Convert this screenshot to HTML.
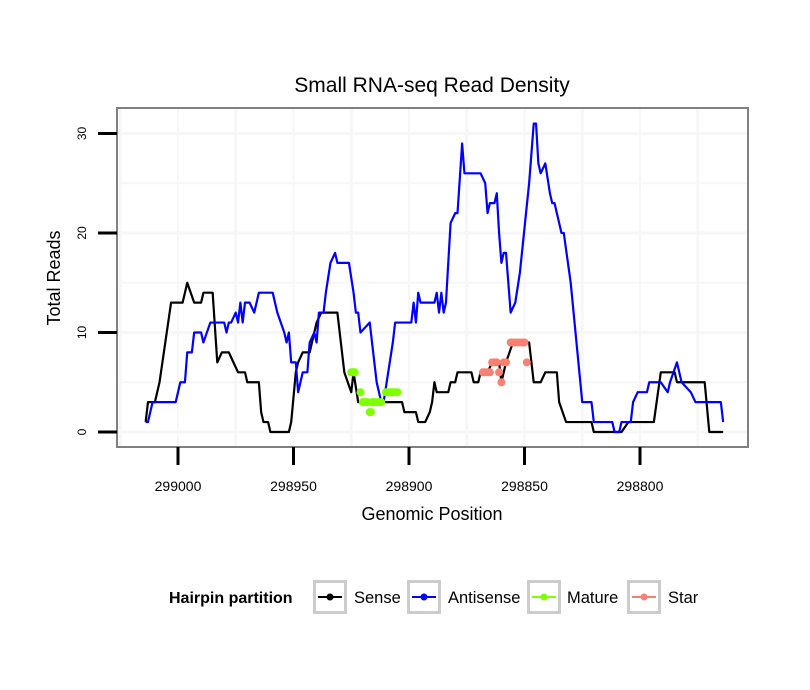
<!DOCTYPE html>
<html><head><meta charset="utf-8"><style>
body{margin:0;background:#fff;}
svg{display:block;font-family:"Liberation Sans",sans-serif;}
</style></head><body>
<svg id="chart" width="810" height="690" viewBox="0 0 810 690">
<rect width="810" height="690" fill="#fff"/>
<text x="432" y="92" font-size="21" text-anchor="middle">Small RNA-seq Read Density</text>
<g id="grid"></g>
<g id="series"></g>
<rect x="117" y="108" width="631" height="339" fill="none" stroke="#808080" stroke-width="2"/>
<g id="axes"></g>
<text x="432" y="520" font-size="18" text-anchor="middle">Genomic Position</text>
<text transform="translate(60,278) rotate(-90)" font-size="18" text-anchor="middle">Total Reads</text>
<g>
<text x="169" y="603" font-size="16" font-weight="bold">Hairpin partition</text>
<g id="legend"></g>
</g>
</svg>
<script>
const yTicks=[0,10,20,30];
const xTicks=[299000,298950,298900,298850,298800];
const senseData=[[299014,1],[299013,3],[299010,3],[299009,4],[299008,5],[299003,13],[298998,13],[298997,14],[298996,15],[298993,13],[298990,13],[298989,14],[298985,14],[298983,7],[298981,8],[298978,8],[298976,7],[298974,6],[298971,6],[298970,5],[298965,5],[298964,2],[298963,1],[298961,1],[298960,0],[298952,0],[298951,1],[298949,6],[298948,7],[298946,8],[298943,8],[298941,10],[298940,11],[298938,12],[298931,12],[298928,6],[298925,4],[298924,6],[298922,3],[298903,3],[298902,2],[298897,2],[298896,1],[298893,1],[298891,2],[298890,3],[298889,5],[298888,4],[298883,4],[298882,5],[298880,5],[298879,6],[298873,6],[298872,5],[298870,5],[298869,6],[298866,6],[298864,7],[298861,7],[298860,5],[298858,7],[298855,9],[298848,9],[298846,5],[298843,5],[298841,6],[298836,6],[298835,3],[298832,1],[298821,1],[298820,0],[298808,0],[298805,1],[298794,1],[298791,6],[298785,6],[298784,5],[298772,5],[298770,0],[298764,0]];
const antisenseData=[[299014,1],[299013,1],[299011,3],[299001,3],[299000,4],[298999,5],[298997,5],[298996,8],[298994,8],[298993,10],[298990,10],[298989,9],[298986,11],[298980,11],[298979,10],[298978,11],[298977,11],[298975,12],[298974,11],[298973,13],[298972,11],[298971,13],[298969,13],[298967,12],[298965,14],[298959,14],[298957,12],[298954,10],[298953,9],[298952,10],[298951,7],[298949,7],[298948,4],[298946,6],[298944,6],[298943,9],[298941,10],[298940,9],[298939,12],[298937,12],[298936,14],[298934,17],[298932,18],[298931,17],[298926,17],[298924,14],[298923,12],[298922,12],[298921,10],[298917,11],[298916,9],[298914,5],[298912,3],[298911,3],[298909,6],[298907,9],[298906,11],[298899,11],[298898,13],[298897,11],[298896,14],[298895,13],[298889,13],[298888,14],[298887,12],[298886,14],[298885,12],[298884,13],[298882,21],[298880,22],[298879,22],[298877,29],[298876,26],[298869,26],[298867,25],[298866,22],[298865,23],[298863,23],[298862,24],[298861,20],[298860,17],[298859,18],[298858,18],[298856,12],[298854,13],[298852,16],[298848,25],[298846,31],[298845,31],[298844,27],[298843,26],[298841,27],[298839,24],[298838,23],[298837,23],[298835,21],[298834,20],[298833,20],[298830,15],[298825,3],[298821,3],[298820,1],[298812,1],[298811,0],[298809,0],[298808,1],[298804,1],[298803,3],[298801,4],[298797,4],[298796,5],[298791,5],[298788,4],[298787,5],[298784,7],[298782,5],[298778,4],[298776,3],[298765,3],[298764,1]];
const matureData=[[298925,6],[298924.5,6],[298924,6],[298923.5,6],[298921,4],[298920,3],[298919.5,3],[298919,3],[298918,3],[298917,2],[298916.5,2],[298916,3],[298915,3],[298914,3],[298913,3],[298912,3],[298910,4],[298909,4],[298908,4],[298907,4],[298906,4],[298905,4]];
const starData=[[298868,6],[298867,6],[298866,6],[298865,6],[298864,7],[298863,7],[298862,7],[298861,6],[298860,5],[298859,7],[298858,7],[298856,9],[298855,9],[298854,9],[298853,9],[298852,9],[298851,9],[298850,9],[298849,7]];
const legendNames=["Sense","Antisense","Mature","Star"];
const legendColors=["#000000","#0000ff","#7fff00","#fa8072"];

const NS="http://www.w3.org/2000/svg";
function xs(p){return 178+(299000-p)*115.5/50;}
function ys(v){return 432-v*9.95;}
function mk(tag,attrs,parent){const e=document.createElementNS(NS,tag);for(const k in attrs)e.setAttribute(k,attrs[k]);parent.appendChild(e);return e;}
const grid=document.getElementById('grid'),axes=document.getElementById('axes'),series=document.getElementById('series'),legend=document.getElementById('legend');
[0,5,10,15,20,25,30].forEach(v=>{
 const l=mk('line',{x1:117,x2:748,y1:ys(v),y2:ys(v),stroke:'#f7f7f7','stroke-width':v%10?2:3},grid);
 
 
});
[299025,299000,298975,298950,298925,298900,298875,298850,298825,298800,298775].forEach(p=>{
 const x=xs(p); if(x<117||x>748)return;
 const l=mk('line',{x1:x,x2:x,y1:108,y2:447,stroke:'#f7f7f7','stroke-width':(p%50)?3:2},grid);
 
 
});
yTicks.forEach(v=>{
 const t=mk('line',{x1:98,x2:117,y1:ys(v),y2:ys(v),stroke:'#000','stroke-width':3},axes);
 
 
 const tx=mk('text',{transform:`translate(86,${ys(v)}) rotate(-90)`,'font-size':12,'text-anchor':'middle'},axes);
 tx.textContent=v;
 
 
});
xTicks.forEach(p=>{
 const t=mk('line',{x1:xs(p),x2:xs(p),y1:447,y2:465,stroke:'#000','stroke-width':3},axes);
 
 
 const tx=mk('text',{x:xs(p),y:491,'font-size':14,'text-anchor':'middle'},axes);
 tx.textContent=p;
 
 
});
function line(data,color,name){
 const pl=mk('polyline',{points:data.map(d=>xs(d[0])+','+ys(d[1])).join(' '),fill:'none',stroke:color,'stroke-width':2.2,'stroke-linejoin':'round'},series);
 
 
}
function pts(data,color,name){
 data.forEach(d=>{
  const c=mk('circle',{cx:xs(d[0]),cy:ys(d[1]),r:4,fill:color},series);
  
  
 });
}
line(senseData,'#000','sense-line');
line(antisenseData,'#0000ff','antisense-line');
pts(matureData,'#7fff00','mature-point');
pts(starData,'#fa8072','star-point');
const boxX=[313,407,527,627],labX=[354,448,567,668];
legendNames.forEach((n,i)=>{
 const b=mk('rect',{x:boxX[i]+1.5,y:581.5,width:31,height:31,fill:'#fff',stroke:'#cccccc','stroke-width':3},legend);
 
 
 mk('line',{x1:boxX[i]+5,x2:boxX[i]+29,y1:597,y2:597,stroke:legendColors[i],'stroke-width':2},legend);
 mk('circle',{cx:boxX[i]+17,cy:597,r:3.5,fill:legendColors[i]},legend);
 const t=mk('text',{x:labX[i],y:603,'font-size':16.5},legend);
 t.textContent=n;
 
 
});
</script>
</body></html>
